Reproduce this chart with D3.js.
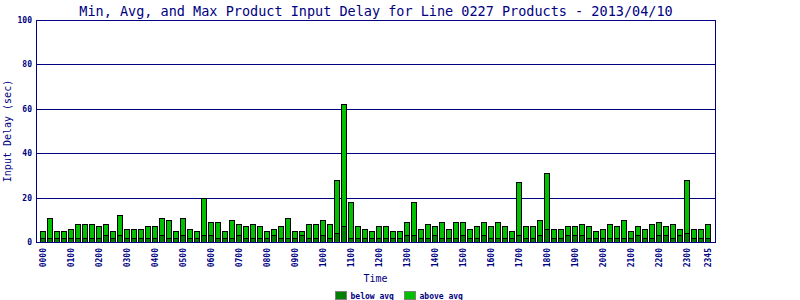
<!DOCTYPE html>
<html>
<head>
<meta charset="utf-8">
<script src="https://cdn.jsdelivr.net/npm/d3@7"></script>
<style>
    body { margin: 0; background: #fff; }
    text { font-family: "DejaVu Sans Mono", monospace; fill: #000080; }
</style>
</head>
<body>
<div id="chart"></div>
<script>
// 15-minute slots for the day
let times = d3.range(96).map(i => d3.format("02")(Math.floor(i / 4)) + d3.format("02")((i % 4) * 15));

// min delay (below avg part) per slot
let minVals = [2,2,2,2,2,2,2,2,2,3,2,3,2,2,2,2,2,3,2,2,3,2,2,3,3,2,
    2,2,3,2,2,2,2,3,2,2,2,3,2,2,3,2,4,7,2,2,2,2,2,2,2,2,
    3,3,2,2,3,2,2,2,3,2,2,3,2,2,2,2,3,2,2,3,6,2,2,3,3,
    3,2,2,2,2,2,2,2,3,2,2,3,3,2,3,4,2,2,2];

// max delay per slot
let maxVals = [5,11,5,5,6,8,8,8,7,8,5,12,6,6,6,7,7,11,10,5,11,6,5,20,9,9,
    5,10,8,7,8,7,5,6,7,11,5,5,8,8,10,8,28,62,18,7,6,5,7,7,5,5,
    9,18,6,8,7,9,6,9,9,6,7,9,7,9,7,5,27,7,7,10,31,6,6,7,7,
    8,7,5,6,8,7,10,5,7,6,8,9,7,8,6,28,6,6,8];

let yTicks = [0, 20, 40, 60, 80, 100];
let legendItems = [{label: "below avg", color: "#008000"}, {label: "above avg", color: "#00c000"}];

let data = times.map((t, i) => ({time: t, min: minVals[i], max: maxVals[i]}));

let margin = {top: 20, right: 85, bottom: 58, left: 36};
let width = 800, height = 300;
let plotW = width - margin.left - margin.right;
let plotH = height - margin.top - margin.bottom;

let svg = d3.select("#chart").append("svg")
    .attr("width", width)
    .attr("height", height);

let g = svg.append("g")
    .attr("transform", `translate(${margin.left}, ${margin.top})`);

let x = d3.scaleBand()
    .domain(times)
    .range([0, plotW])
    .paddingInner(0.28)
    .paddingOuter(0.64);

let y = d3.scaleLinear()
    .domain([0, 100])
    .range([plotH, 0]);

// title
svg.append("text")
    .attr("x", width / 2 - 24)
    .attr("y", 16)
    .attr("text-anchor", "middle")
    .style("font-size", "13.5px")
    .text("Min, Avg, and Max Product Input Delay for Line 0227 Products - 2013/04/10");

// grid lines
g.selectAll(".grid")
    .data(yTicks.filter(d => d > 0))
    .enter().append("line")
    .attr("class", "grid")
    .attr("x1", 0)
    .attr("x2", plotW)
    .attr("y1", d => Math.round(y(d)) + 0.5)
    .attr("y2", d => Math.round(y(d)) + 0.5)
    .attr("stroke", "#000080");

// y tick labels
g.selectAll(".ylab")
    .data(yTicks)
    .enter().append("text")
    .attr("class", "ylab")
    .attr("x", -4)
    .attr("y", d => y(d) + 3)
    .attr("text-anchor", "end")
    .style("font-size", "8px")
    .style("font-weight", "bold")
    .text(d => d);

// bars: below avg part and above avg part
let bars = g.selectAll(".bar")
    .data(data)
    .enter().append("g")
    .attr("class", "bar");

bars.append("rect")
    .attr("x", d => Math.round(x(d.time)) + 0.5)
    .attr("y", d => Math.round(y(d.max)) + 0.5)
    .attr("width", 5)
    .attr("height", d => Math.round(y(d.min)) - Math.round(y(d.max)))
    .attr("fill", legendItems[1].color)
    .attr("stroke", "#000");

bars.append("rect")
    .attr("x", d => Math.round(x(d.time)) + 0.5)
    .attr("y", d => Math.round(y(d.min)) + 0.5)
    .attr("width", 5)
    .attr("height", d => Math.round(y(0)) - Math.round(y(d.min)))
    .attr("fill", legendItems[0].color)
    .attr("stroke", "#000");

// plot frame
g.append("rect")
    .attr("x", 0.5)
    .attr("y", 0.5)
    .attr("width", plotW)
    .attr("height", plotH)
    .attr("fill", "none")
    .attr("stroke", "#000080");

// x tick labels (hourly plus last slot)
let xLabels = times.filter((t, i) => t.endsWith("00") || i === times.length - 1);
g.selectAll(".xlab")
    .data(xLabels)
    .enter().append("text")
    .attr("class", "xlab")
    .attr("text-anchor", "end")
    .attr("transform", d => `translate(${x(d) + x.bandwidth() / 2 + 3}, ${plotH + 6}) rotate(-90)`)
    .style("font-size", "8px")
    .style("font-weight", "bold")
    .text(d => d);

// axis titles
svg.append("text")
    .attr("x", margin.left + plotW / 2)
    .attr("y", 282)
    .attr("text-anchor", "middle")
    .style("font-size", "10px")
    .text("Time");

svg.append("text")
    .attr("text-anchor", "middle")
    .attr("transform", `translate(11, ${margin.top + plotH / 2}) rotate(-90)`)
    .style("font-size", "10px")
    .text("Input Delay (sec)");

// legend
let legend = svg.append("g")
    .attr("transform", "translate(335.5, 291.5)");

let item = legend.selectAll(".leg")
    .data(legendItems)
    .enter().append("g")
    .attr("class", "leg")
    .attr("transform", (d, i) => `translate(${i * 69}, 0)`);

item.append("rect")
    .attr("width", 11)
    .attr("height", 8)
    .attr("fill", d => d.color)
    .attr("stroke", "#808080");

item.append("text")
    .attr("x", 15)
    .attr("y", 7)
    .style("font-size", "8px")
    .style("font-weight", "bold")
    .text(d => d.label);
</script>
</body>
</html>
